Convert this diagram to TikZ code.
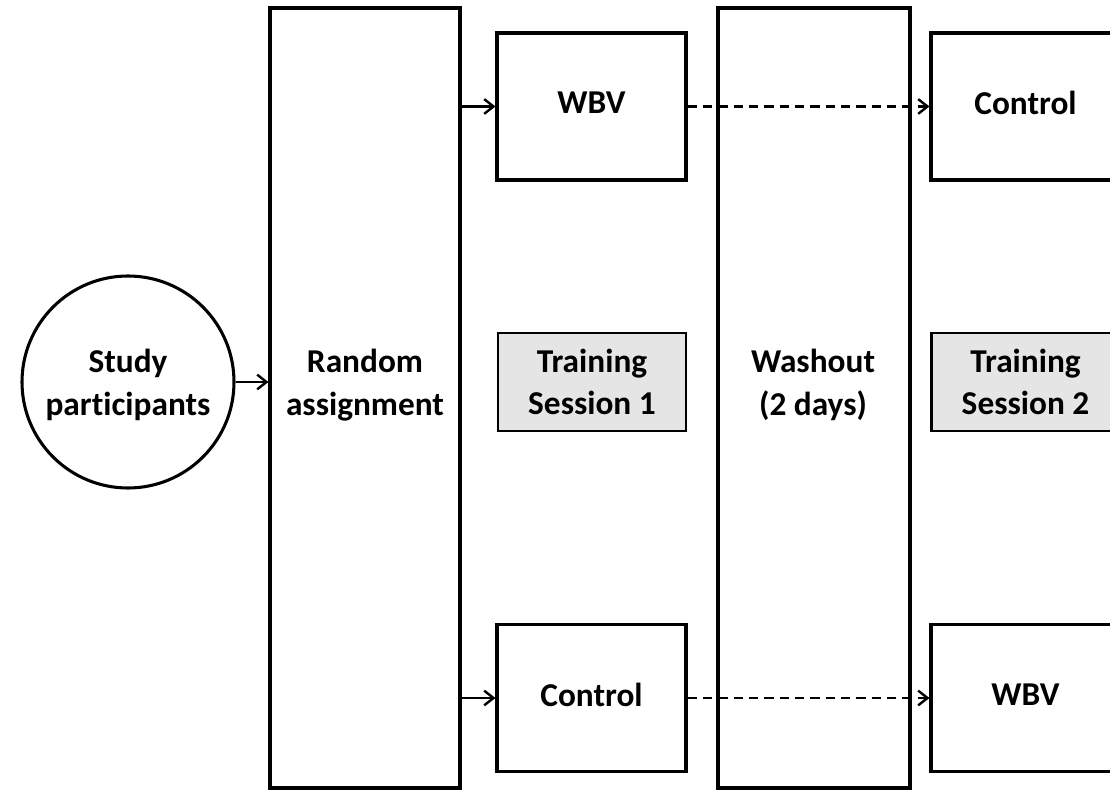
\documentclass[tikz,border=0pt]{standalone}
\usepackage{fontspec}
\setmainfont{Carlito}[Ligatures=CommonOff]
\usetikzlibrary{arrows.meta}
\begin{document}
\begin{tikzpicture}[x=0.75pt,y=-0.75pt,
  txt/.style={align=center,inner sep=0pt,font=\fontsize{25}{32}\selectfont\bfseries},
  box/.style={txt,draw,line width=2.3pt,rectangle},
  armbox/.style={box,minimum width=189*0.75pt,minimum height=147*0.75pt,text depth=5pt},
  tallbox/.style={box,minimum width=190*0.75pt,minimum height=780*0.75pt},
  sessbox/.style={box,line width=1.6pt,fill=gray!20,minimum width=188*0.75pt,minimum height=98*0.75pt},
  arr/.style={line width=1.8pt,-{Straight Barb[length=7pt,width=11pt,line width=1.8pt]}},
  darr/.style={arr,dash pattern=on 7pt off 4.5pt}]
\useasboundingbox (0,0) rectangle (1110,791);
\clip (0,0) rectangle (1110,791);
\node[box,circle,minimum size=212*0.75pt] (sp) at (128,382) {};
\node[txt] (sptext) at (128,385) {Study\\participants};
\node[tallbox] (ra) at (365,398) {};
\node[txt] (ratext) at (365,385) {Random\\assignment};
\node[armbox] (wbv1) at (591.5,106.5) {WBV};
\node[sessbox] (ts1) at (592,382) {Training\\Session 1};
\node[armbox] (ctl1) at (591.5,698) {Control};
\node[tallbox,minimum width=192*0.75pt] (wo) at (814,398) {};
\node[txt] (wotext) at (813,385) {Washout\\(2 days)};
\node[armbox] (ctl2) at (1025.5,106.5) {Control};
\node[sessbox] (ts2) at (1025.5,382) {Training\\Session 2};
\node[armbox] (wbv2) at (1025.5,698) {WBV};
\draw[arr] (sp.east) -- (sp.east -| ra.west);
\draw[arr] (wbv1.west -| ra.east) -- (wbv1.west);
\draw[arr] (ctl1.west -| ra.east) -- (ctl1.west);
\draw[darr] (wbv1.east) -- (ctl2.west);
\draw[darr] (ctl1.east) -- (wbv2.west);
\end{tikzpicture}
\end{document}
